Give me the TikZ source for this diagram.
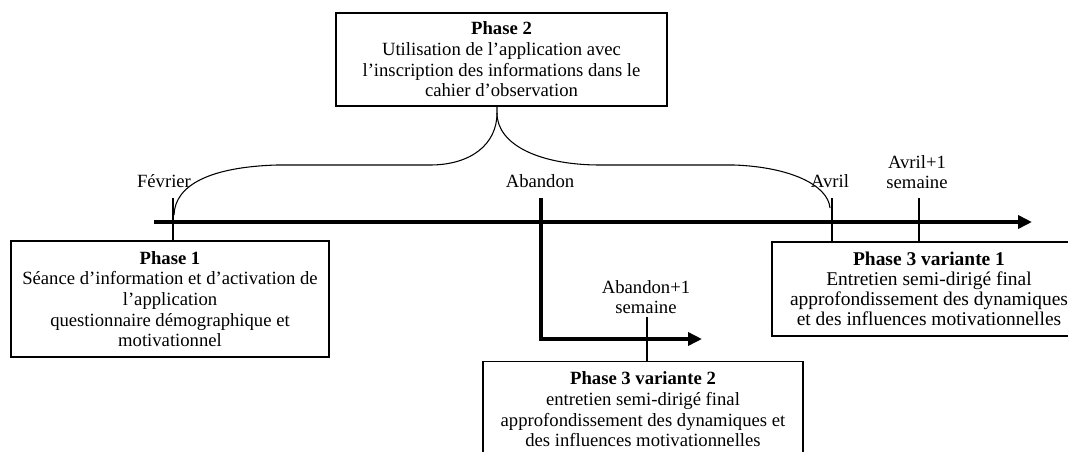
\documentclass[tikz,border=0pt]{standalone}
\usepackage{fontspec}
\setmainfont{Liberation Serif}
\usetikzlibrary{arrows.meta}
\newcommand\diagfont{\fontsize{14}{15.5}\selectfont}
\begin{document}
\begin{tikzpicture}[x=0.75pt,y=-0.75pt,
  phasebox/.style={draw, line width=0.8pt, align=center, inner sep=0pt, font=\diagfont},
  datelbl/.style={align=center, inner sep=0pt, font=\diagfont},
  tlaxis/.style={line width=3pt, -{Triangle[length=10.5pt,width=9.75pt]}},
  elbowline/.style={line width=3pt, line join=miter, -{Triangle[length=10.5pt,width=9.75pt]}},
  tickline/.style={line width=1.8pt},
  braceline/.style={line width=0.8pt}]
\useasboundingbox (0,0) rectangle (1068,451);

% boxes
\node[phasebox, minimum width=248.25pt, minimum height=69.75pt] (p2) at (501.5,59.5)
  {\textbf{Phase 2}\\Utilisation de l’application avec\\l’inscription des informations dans le\\cahier d’observation};
\node[phasebox, minimum width=238.5pt, minimum height=87pt] (p1) at (170,299)
  {\textbf{Phase 1}\\Séance d’information et d’activation de\\l’application\\questionnaire démographique et\\motivationnel};
\node[phasebox, minimum width=235.5pt, minimum height=70.5pt, font=\fontsize{14.6}{14.9}\selectfont] (p3a) at (929,289)
  {\textbf{Phase 3 variante 1}\\Entretien semi-dirigé final\\approfondissement des dynamiques\\et des influences motivationnelles};
\node[phasebox, minimum width=240pt, minimum height=72pt, anchor=north] (p3b) at (643,361)
  {\textbf{Phase 3 variante 2}\\entretien semi-dirigé final\\approfondissement des dynamiques et\\des influences motivationnelles};

% labels
\node[datelbl] (lfev) at (164,181) {Février};
\node[datelbl] (laba) at (540,181) {Abandon};
\node[datelbl] (lavr) at (830,181) {Avril};
\node[datelbl] (lavr1) at (917,172) {Avril+1\\semaine};
\node[datelbl] (laba1) at (646,297) {Abandon+1\\semaine};

% coordinates
\coordinate (tlstart) at (154,222);
\coordinate (tlend) at (1032,222);
\coordinate (tfev) at (173,198);
\coordinate (taba) at (541,198);
\coordinate (tabacorner) at (541,339);
\coordinate (tabaend) at (702,339);
\coordinate (tavr) at (832,198);
\coordinate (tavr1) at (919,198);
\coordinate (taba1) at (647,317);
\coordinate (bracetip) at (497,106);

% timeline
\draw[tlaxis] (tlstart) -- (tlend);
\draw[tickline] (tfev) -- (tfev |- p1.north);
\draw[tickline] (tavr) -- (tavr |- p3a.north);
\draw[tickline] (tavr1) -- (tavr1 |- p3a.north);
\draw[tickline] (taba1) -- (taba1 |- p3b.north);
\draw[elbowline] (taba) -- (tabacorner) -- (tabaend);

% brace
\draw[braceline] (bracetip) -- (497,113)
  .. controls (497,145) and (470,165) .. (430,165) -- (277,165)
  .. controls (210,167) and (175,185) .. (174,215);
\draw[braceline] (497,113)
  .. controls (497,145) and (540,165) .. (600,165) -- (734,165)
  .. controls (790,167) and (828,185) .. (830,208);
\end{tikzpicture}
\end{document}
